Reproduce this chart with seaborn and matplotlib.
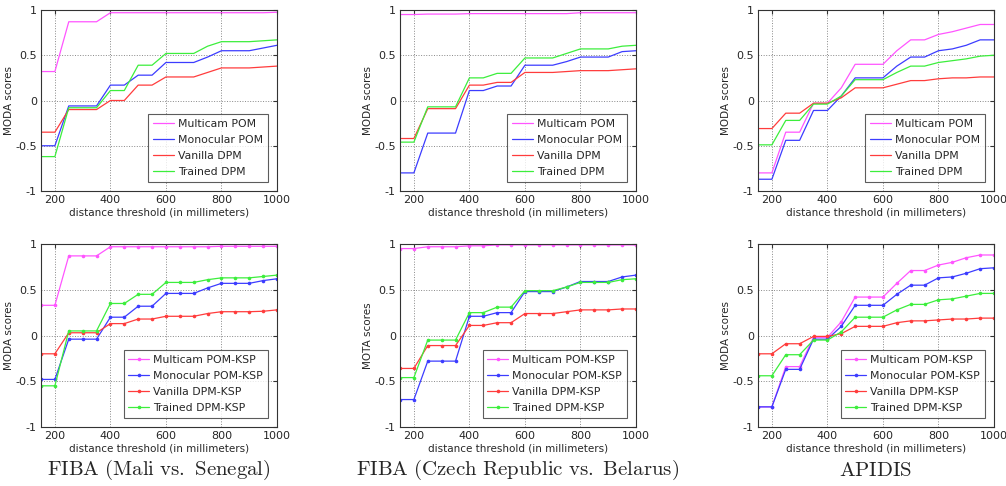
import numpy as np
import pandas as pd
import matplotlib
matplotlib.use("Agg")
import matplotlib.pyplot as plt
import seaborn as sns

thresholds = [150, 200, 250, 300, 350, 400, 450, 500, 550, 600,
              650, 700, 750, 800, 850, 900, 950, 1000]

# ---- Top row (no KSP) ----
mali_multicam = [0.32, 0.32, 0.87, 0.87, 0.87, 0.97, 0.97, 0.97, 0.97, 0.97, 0.97, 0.97, 0.97, 0.97, 0.97, 0.97, 0.97, 0.975]
mali_mono = [-0.50, -0.50, -0.06, -0.06, -0.06, 0.17, 0.17, 0.28, 0.28, 0.42, 0.42, 0.42, 0.48, 0.55, 0.55, 0.55, 0.58, 0.61]
mali_vanilla = [-0.35, -0.35, -0.10, -0.10, -0.10, 0.00, 0.00, 0.17, 0.17, 0.26, 0.26, 0.26, 0.31, 0.36, 0.36, 0.36, 0.37, 0.38]
mali_trained = [-0.62, -0.62, -0.08, -0.08, -0.08, 0.11, 0.11, 0.39, 0.39, 0.52, 0.52, 0.52, 0.60, 0.65, 0.65, 0.65, 0.66, 0.67]

czech_multicam = [0.95, 0.95, 0.955, 0.955, 0.955, 0.96, 0.96, 0.96, 0.96, 0.96, 0.96, 0.96, 0.96, 0.97, 0.97, 0.97, 0.97, 0.97]
czech_mono = [-0.80, -0.80, -0.36, -0.36, -0.36, 0.11, 0.11, 0.16, 0.16, 0.39, 0.39, 0.39, 0.43, 0.48, 0.48, 0.48, 0.54, 0.55]
czech_vanilla = [-0.42, -0.42, -0.09, -0.09, -0.09, 0.17, 0.17, 0.20, 0.20, 0.31, 0.31, 0.31, 0.32, 0.33, 0.33, 0.33, 0.34, 0.35]
czech_trained = [-0.46, -0.46, -0.07, -0.07, -0.07, 0.25, 0.25, 0.30, 0.30, 0.47, 0.47, 0.47, 0.52, 0.57, 0.57, 0.57, 0.60, 0.61]

apidis_multicam = [-0.80, -0.80, -0.35, -0.35, -0.03, -0.03, 0.14, 0.40, 0.40, 0.40, 0.55, 0.67, 0.67, 0.73, 0.76, 0.80, 0.84, 0.84]
apidis_mono = [-0.87, -0.87, -0.44, -0.44, -0.11, -0.11, 0.05, 0.25, 0.25, 0.25, 0.38, 0.48, 0.48, 0.55, 0.57, 0.61, 0.67, 0.67]
apidis_vanilla = [-0.31, -0.31, -0.14, -0.14, -0.03, -0.03, 0.03, 0.14, 0.14, 0.14, 0.18, 0.22, 0.22, 0.24, 0.25, 0.25, 0.26, 0.26]
apidis_trained = [-0.49, -0.49, -0.22, -0.22, -0.04, -0.04, 0.05, 0.23, 0.23, 0.23, 0.31, 0.38, 0.38, 0.42, 0.44, 0.46, 0.49, 0.50]

# ---- Bottom row (KSP) ----
mali_ksp_multicam = [0.33, 0.33, 0.87, 0.87, 0.87, 0.97, 0.97, 0.97, 0.97, 0.97, 0.97, 0.97, 0.97, 0.975, 0.975, 0.975, 0.975, 0.975]
mali_ksp_mono = [-0.48, -0.48, -0.04, -0.04, -0.04, 0.20, 0.20, 0.32, 0.32, 0.46, 0.46, 0.46, 0.52, 0.57, 0.57, 0.57, 0.60, 0.62]
mali_ksp_vanilla = [-0.20, -0.20, 0.03, 0.03, 0.03, 0.13, 0.13, 0.18, 0.18, 0.21, 0.21, 0.21, 0.24, 0.26, 0.26, 0.26, 0.265, 0.28]
mali_ksp_trained = [-0.55, -0.55, 0.05, 0.05, 0.05, 0.35, 0.35, 0.45, 0.45, 0.58, 0.58, 0.58, 0.61, 0.63, 0.63, 0.63, 0.645, 0.66]

czech_ksp_multicam = [0.95, 0.95, 0.97, 0.97, 0.97, 0.98, 0.98, 0.99, 0.99, 0.99, 0.99, 0.99, 0.99, 0.99, 0.99, 0.99, 0.99, 0.99]
czech_ksp_mono = [-0.70, -0.70, -0.28, -0.28, -0.28, 0.21, 0.21, 0.25, 0.25, 0.48, 0.48, 0.48, 0.53, 0.59, 0.59, 0.59, 0.64, 0.66]
czech_ksp_vanilla = [-0.36, -0.36, -0.11, -0.11, -0.11, 0.11, 0.11, 0.14, 0.14, 0.24, 0.24, 0.24, 0.26, 0.28, 0.28, 0.28, 0.29, 0.29]
czech_ksp_trained = [-0.46, -0.46, -0.05, -0.05, -0.05, 0.25, 0.25, 0.31, 0.31, 0.49, 0.49, 0.49, 0.53, 0.58, 0.58, 0.58, 0.61, 0.62]

apidis_ksp_multicam = [-0.78, -0.78, -0.34, -0.34, -0.02, -0.02, 0.15, 0.42, 0.42, 0.42, 0.57, 0.71, 0.71, 0.77, 0.80, 0.85, 0.88, 0.88]
apidis_ksp_mono = [-0.78, -0.78, -0.37, -0.37, -0.04, -0.04, 0.10, 0.33, 0.33, 0.33, 0.45, 0.55, 0.55, 0.63, 0.64, 0.68, 0.73, 0.74]
apidis_ksp_vanilla = [-0.20, -0.20, -0.09, -0.09, -0.01, -0.01, 0.02, 0.10, 0.10, 0.10, 0.14, 0.16, 0.16, 0.17, 0.18, 0.18, 0.19, 0.19]
apidis_ksp_trained = [-0.44, -0.44, -0.21, -0.21, -0.05, -0.05, 0.04, 0.20, 0.20, 0.20, 0.28, 0.34, 0.34, 0.39, 0.40, 0.43, 0.46, 0.46]

top_names = ["Multicam POM", "Monocular POM", "Vanilla DPM", "Trained DPM"]
bottom_names = ["Multicam POM-KSP", "Monocular POM-KSP", "Vanilla DPM-KSP", "Trained DPM-KSP"]
colors = ["#ff55ff", "#3c3cff", "#ff3c3c", "#3cee3c"]

xticks = [200, 400, 600, 800, 1000]
yticks = [-1, -0.5, 0, 0.5, 1]
ytick_labels = ["-1", "-0.5", "0", "0.5", "1"]
xlabel = "distance threshold (in millimeters)"
titles = ["FIBA (Mali vs. Senegal)", "FIBA (Czech Republic vs. Belarus)", "APIDIS"]

panels = [
    (0, 0, [mali_multicam, mali_mono, mali_vanilla, mali_trained], top_names, "MODA scores"),
    (0, 1, [czech_multicam, czech_mono, czech_vanilla, czech_trained], top_names, "MODA scores"),
    (0, 2, [apidis_multicam, apidis_mono, apidis_vanilla, apidis_trained], top_names, "MODA scores"),
    (1, 0, [mali_ksp_multicam, mali_ksp_mono, mali_ksp_vanilla, mali_ksp_trained], bottom_names, "MODA scores"),
    (1, 1, [czech_ksp_multicam, czech_ksp_mono, czech_ksp_vanilla, czech_ksp_trained], bottom_names, "MOTA scores"),
    (1, 2, [apidis_ksp_multicam, apidis_ksp_mono, apidis_ksp_vanilla, apidis_ksp_trained], bottom_names, "MODA scores"),
]

sns.set_style("white")
plt.rcParams["font.family"] = ["DejaVu Sans"]
plt.rcParams["mathtext.fontset"] = "cm"

fig = plt.figure(figsize=(10.06, 4.86), dpi=100)

lefts = [41 / 1006, 400 / 1006, 758 / 1006]
width = 236 / 1006
row_bottoms = [1 - 191 / 486, 1 - 427 / 486]
row_heights = [181 / 486, 183 / 486]

for row, col, series, names, ylabel in panels:
    ax = fig.add_axes([lefts[col], row_bottoms[row], width, row_heights[row]])
    df = pd.DataFrame({
        "threshold": np.tile(thresholds, len(names)),
        "score": np.concatenate(series),
        "method": np.repeat(names, len(thresholds)),
    })
    kw = dict(marker="o", markersize=2.6, markeredgewidth=0) if row == 1 else {}
    sns.lineplot(data=df, x="threshold", y="score", hue="method", hue_order=names,
                 palette=colors, linewidth=0.9, ax=ax, legend=True, **kw)
    ax.set_xlim(150, 1000)
    ax.set_ylim(-1, 1)
    ax.set_xticks(xticks)
    ax.set_yticks(yticks)
    ax.set_yticklabels(ytick_labels)
    ax.tick_params(direction="in", length=3, labelsize=8, top=True, right=True,
                   color="#333333", pad=3)
    ax.grid(True, linestyle=":", color="#888888", linewidth=0.7)
    for s in ax.spines.values():
        s.set_color("#333333")
        s.set_linewidth(0.8)
    ax.set_xlabel(xlabel, fontsize=7.5, labelpad=2)
    ax.set_ylabel(ylabel, fontsize=7.5, labelpad=1)
    leg = ax.legend(loc="lower right", bbox_to_anchor=(0.962, 0.05), borderaxespad=0,
                    fontsize=7.8, frameon=True, fancybox=False, edgecolor="#333333",
                    handlelength=1.9, borderpad=0.45, labelspacing=0.55,
                    handletextpad=0.4)
    leg.get_frame().set_linewidth(0.8)

for col, t in enumerate(titles):
    cx = lefts[col] + width / 2
    fig.text(cx, 1 - 470 / 486, r"$\mathrm{" + t.replace(" ", r"\ ") + "}$",
             ha="center", va="center", fontsize=15)

fig.savefig("out.png", dpi=100, facecolor="white")
